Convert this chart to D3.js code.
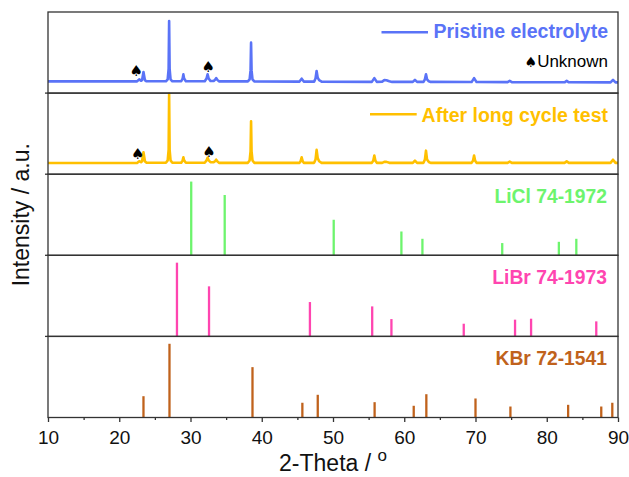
<!DOCTYPE html>
<html><head><meta charset="utf-8">
<script src="https://cdn.jsdelivr.net/npm/d3@7"></script>
<style>body{margin:0;background:#fff}svg{display:block}</style>
</head><body><svg id="c" width="629" height="477"></svg>
<script>
// ---- data (2-Theta, relative intensity) ----
const pristine = [
[10,14.4],[22.5,14.4],[22.8,17],[23.05,15.2],[23.2,16],[23.4,25.9],[23.6,16],[23.8,14.6],
[26.55,14.6],[26.8,17],[26.93,30],[27.0,88.9],[27.07,30],[27.2,17],[27.45,14.6],
[28.7,14.6],[28.9,18],[29.0,23.1],[29.1,18],[29.35,14.6],
[32.0,14.6],[32.25,18],[32.4,23.1],[32.55,18],[32.8,15],[33.25,15],[33.45,16.5],[33.6,18.5],[33.8,16],[34.0,14.5],
[38.05,14.4],[38.3,17],[38.43,28],[38.5,62.2],[38.57,28],[38.7,17],[38.95,14.4],
[45.3,14.2],[45.6,17.8],[45.9,14.2],
[47.35,14.2],[47.55,18],[47.7,27.2],[47.85,19],[48.05,16],[48.4,14.2],
[55.45,13.8],[55.8,18.5],[56.15,13.8],
[56.9,14.2],[57.2,16],[57.5,15.8],[57.9,14.6],[58.3,13.8],
[61.2,13.8],[61.5,16.3],[61.8,13.8],
[62.7,13.8],[62.9,17],[63.05,23.1],[63.2,17],[63.45,14.5],[63.7,13.8],
[69.45,13.6],[69.8,18.5],[70.15,13.6],
[74.5,13.5],[74.8,15],[75.1,13.5],
[82.5,13.3],[82.8,15],[83.1,13.3],
[88.95,13.2],[89.3,16.3],[89.65,13.2],[90,13.2]
];
const afterCycle = [
[10,13.9],[22.5,13.9],[22.8,16],[23.05,14.8],[23.2,16],[23.4,27],[23.6,16],[23.8,14.2],
[26.55,14.2],[26.8,17],[26.93,30],[27.0,99],[27.07,30],[27.2,17],[27.45,14.2],
[28.7,14.2],[28.9,17],[29.0,20.8],[29.1,17],[29.35,14.2],
[32.0,14.2],[32.25,17],[32.4,20.4],[32.55,17],[32.8,14.8],[33.25,14.8],[33.45,16],[33.6,17.9],[33.8,15.5],[34.0,14],
[38.05,14],[38.3,17],[38.43,28],[38.5,65.3],[38.57,28],[38.7,17],[38.95,14],
[45.3,14],[45.45,16],[45.6,20.8],[45.75,16],[45.9,14],
[47.35,14],[47.55,18],[47.7,30],[47.85,20],[48.05,16],[48.4,14],
[55.45,14],[55.65,16.5],[55.8,22.9],[55.95,16.5],[56.15,14],
[56.9,14],[57.2,15.3],[57.5,15.2],[57.9,14],
[61.2,14],[61.5,16.7],[61.8,14],
[62.7,14],[62.9,18],[63.05,29],[63.2,18],[63.45,15],[63.7,14],
[69.45,14],[69.65,16.5],[69.8,22.9],[69.95,16.5],[70.15,14],
[74.5,14],[74.8,15.5],[75.1,14],
[82.5,14],[82.8,15.8],[83.1,14],
[88.95,14],[89.3,17.9],[89.65,14],[90,14]
];
const liclPos = [30.1,34.8,50.1,59.6,62.55,73.75,81.7,84.15];
const liclInt = [100,81.8,48.2,32.3,22.4,16.6,18.3,22.4];
const librPos = [28.1,32.6,46.76,55.5,58.2,68.35,75.55,77.8,86.95];
const librInt = [100,67.9,46.6,40.7,23.5,17.2,22.7,24,20.4];
const kbrPos = [23.4,27.05,38.7,45.7,47.86,55.84,61.33,63.1,70.0,74.9,83.0,87.65,89.2];
const kbrInt = [28.9,100,68.3,20,30.8,20.8,15.9,31.6,25.8,14.9,17.2,14.9,20];
const spadesPristine = [[22.4,21.5],[32.5,25.5]];
const spadesAfter = [[22.6,19],[32.6,20.7]];
const xTicks = [10,20,30,40,50,60,70,80,90];
const xMinor = [15,25,35,45,55,65,75,85];
const seriesNames = ["Pristine electrolyte","After long cycle test"];
const refNames = ["LiCl 74-1972","LiBr 74-1973","KBr 72-1541"];
const colors = ["#5a73f7","#ffc000","#6df46d","#ff45b0","#c0621c"];

// ---- layout ----
const svg = d3.select("#c");
const L = 48, R = 618, T = 12, B = 417.5;
const nP = 5, ph = (B - T) / nP;
const x = d3.scaleLinear().domain([10,90]).range([L,R]);
const font = "'Liberation Sans', Arial, sans-serif";

function panelY(i, max){ return d3.scaleLinear().domain([0,max]).range([T+(i+1)*ph, T+i*ph]); }

// spectra
[pristine, afterCycle].forEach((data,i)=>{
  const y = panelY(i,100);
  svg.append("path").datum(data)
    .attr("d", d3.line().x(d=>x(d[0])).y(d=>y(d[1])))
    .attr("fill","none").attr("stroke",colors[i]).attr("stroke-width",2.6)
    .attr("stroke-linejoin","round");
  const sp = i===0 ? spadesPristine : spadesAfter;
  svg.selectAll(null).data(sp).enter().append("text")
    .attr("x",d=>x(d[0])).attr("y",d=>y(d[1]))
    .attr("text-anchor","middle").attr("font-family","'DejaVu Sans', sans-serif")
    .attr("font-size",15).attr("fill","#000").text("\u2660");
});

// sticks
[[liclPos,liclInt],[librPos,librInt],[kbrPos,kbrInt]].forEach((pair,k)=>{
  const i = k+2, y = panelY(i,110);
  const d = pair[0].map((p,j)=>({p, v: pair[1][j]}));
  svg.selectAll(null).data(d).enter().append("line")
    .attr("x1",e=>x(e.p)).attr("x2",e=>x(e.p))
    .attr("y1",y(0)).attr("y2",e=>y(e.v))
    .attr("stroke",colors[i]).attr("stroke-width",2.3);
  svg.append("text").attr("x",607).attr("y",T+i*ph+28.5)
    .attr("text-anchor","end").attr("font-family",font).attr("font-weight","bold")
    .attr("font-size",19.3).attr("fill",colors[i]).text(refNames[k]);
});

// legends
svg.append("line").attr("x1",381.5).attr("x2",428).attr("y1",32.3).attr("y2",32.3)
  .attr("stroke",colors[0]).attr("stroke-width",2.6);
svg.append("text").attr("x",608).attr("y",37.5).attr("text-anchor","end")
  .attr("font-family",font).attr("font-weight","bold").attr("font-size",19.5)
  .attr("fill",colors[0]).text(seriesNames[0]);
const unk = svg.append("text").attr("x",608).attr("y",66.7).attr("text-anchor","end")
  .attr("font-family",font).attr("font-size",17).attr("fill","#000");
unk.append("tspan").attr("font-family","'DejaVu Sans', sans-serif").attr("font-size",14).text("\u2660");
unk.append("tspan").text("Unknown");
svg.append("line").attr("x1",370).attr("x2",416.7).attr("y1",114.3).attr("y2",114.3)
  .attr("stroke",colors[1]).attr("stroke-width",2.6);
svg.append("text").attr("x",608).attr("y",121.7).attr("text-anchor","end")
  .attr("font-family",font).attr("font-weight","bold").attr("font-size",19.5)
  .attr("fill",colors[1]).text(seriesNames[1]);

// panel frames
for(let i=0;i<nP;i++){
  svg.append("rect").attr("x",L).attr("y",T+i*ph).attr("width",R-L).attr("height",ph)
    .attr("fill","none").attr("stroke","#333").attr("stroke-width",1.3);
  if(i>0) svg.append("line").attr("x1",L-3).attr("x2",L).attr("y1",T+i*ph).attr("y2",T+i*ph)
    .attr("stroke","#333").attr("stroke-width",1.3);
}

// x axis
const ax = svg.append("g").attr("transform",`translate(0,${B})`)
  .call(d3.axisBottom(x).tickValues(xTicks).tickSize(4.5).tickPadding(9).tickFormat(d3.format("d")));
ax.select(".domain").remove();
ax.selectAll("line").attr("stroke","#333").attr("stroke-width",1.3);
ax.selectAll("text").attr("font-family",font).attr("font-size",19).attr("fill","#111");
const axm = svg.append("g").attr("transform",`translate(0,${B})`)
  .call(d3.axisBottom(x).tickValues(xMinor).tickSize(2.5).tickFormat(""));
axm.select(".domain").remove();
axm.selectAll("line").attr("stroke","#333").attr("stroke-width",1.3);

// axis titles
const xt = svg.append("text").attr("x",(L+R)/2).attr("y",471).attr("text-anchor","middle")
  .attr("font-family",font).attr("font-size",23).attr("fill","#111");
xt.append("tspan").text("2-Theta / ");
xt.append("tspan").attr("font-size",17).attr("dy",-10).text("o");
svg.append("text").attr("transform",`translate(28.5,${(T+B)/2}) rotate(-90)`)
  .attr("text-anchor","middle").attr("font-family",font).attr("font-size",23)
  .attr("fill","#111").text("Intensity / a.u.");
</script></body></html>
